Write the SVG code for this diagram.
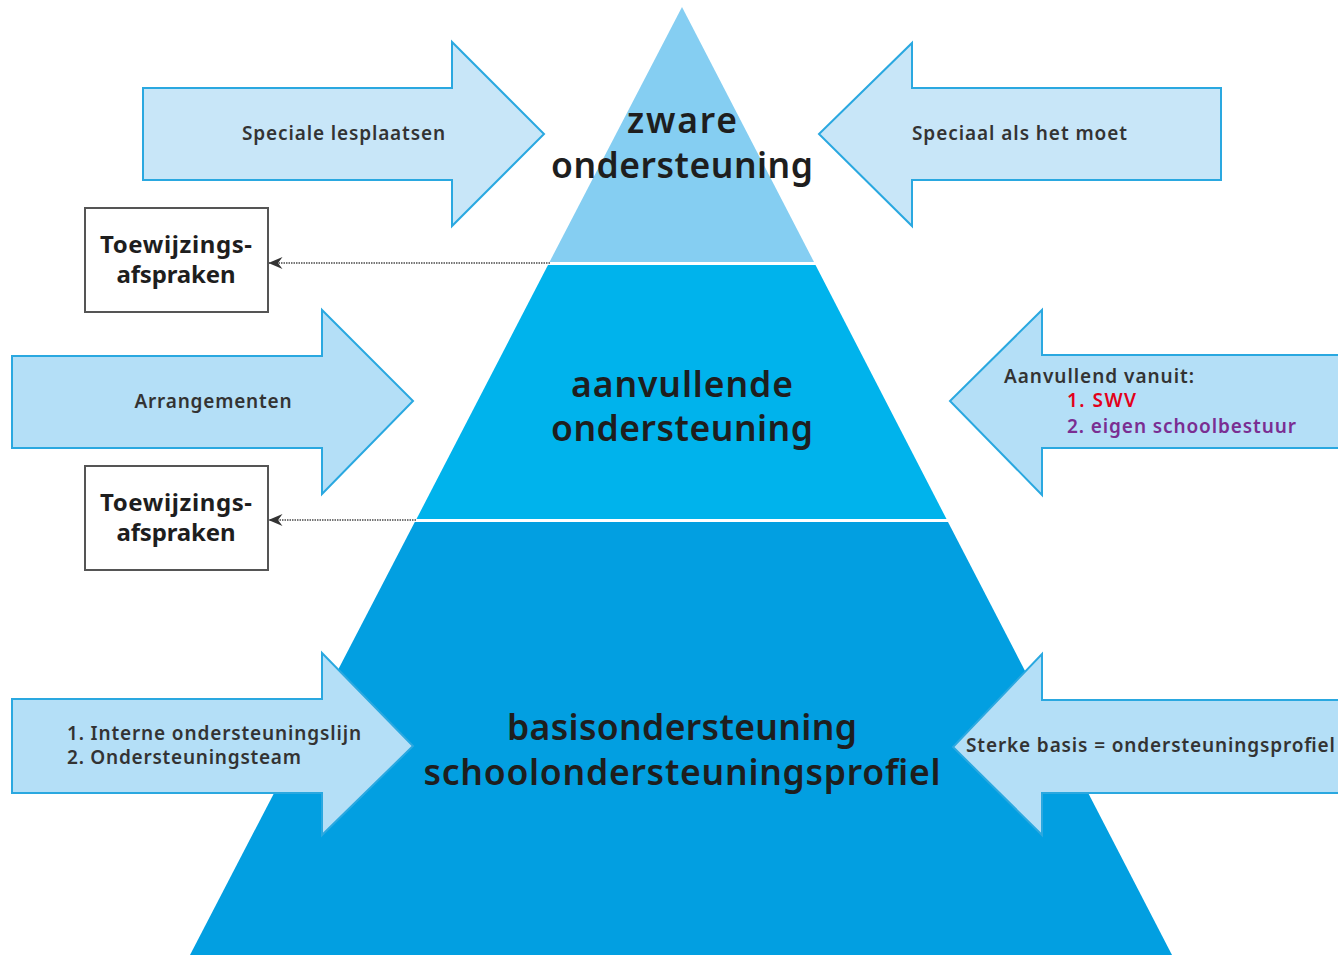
<svg xmlns="http://www.w3.org/2000/svg" width="1338" height="955" viewBox="0 0 1338 955">
<style>
.bg{fill:#ffffff}
.arrA{fill:#c8e6f8;stroke:#2aa8e0;stroke-width:2}
.arrB{fill:#b4dff7;stroke:#2aa8e0;stroke-width:2}
.box{fill:#ffffff;stroke:#555555;stroke-width:2}
.lbl{font-family:"Noto Sans","DejaVu Sans",sans-serif;font-weight:600;font-size:19px;fill:#333333}
.boxt{font-family:"Noto Sans","DejaVu Sans",sans-serif;font-weight:bold;font-size:24px;fill:#1e1e1e;text-anchor:middle}
.ttl{font-family:"Noto Sans","DejaVu Sans",sans-serif;font-weight:600;font-size:35.5px;fill:#1e1e1e;text-anchor:middle}
.conn{fill:none;stroke:#4a4a4a;stroke-width:1.6;stroke-dasharray:1.5 1}
</style>
<defs>
<marker id="ah" viewBox="0 0 14 12" refX="13.5" refY="6" markerWidth="14" markerHeight="12" markerUnits="userSpaceOnUse" orient="auto">
<path d="M0,0 L14,6 L0,12 L4.5,6 Z" fill="#333333"/>
</marker>
</defs>
<rect class="bg" x="0" y="0" width="1338" height="955"/>
<g id="pyramid">
<polygon id="tier-top" points="682,7 549.5,262 814,262" fill="#85cef2"/>
<polygon id="tier-mid" points="548,265 815.5,265 946.5,519 416.5,519" fill="#00b3ec"/>
<polygon id="tier-bot" points="414.8,522 948,522 1172,955 190,955" fill="#029fe1"/>
</g>
<g id="tier-labels">
<text class="ttl" x="682" y="133" textLength="110">zware</text>
<text class="ttl" x="682" y="178" textLength="262">ondersteuning</text>
<text class="ttl" x="682" y="397" textLength="222">aanvullende</text>
<text class="ttl" x="682" y="441" textLength="262">ondersteuning</text>
<text class="ttl" x="682" y="740" textLength="350">basisondersteuning</text>
<text class="ttl" x="682" y="785" textLength="517">schoolondersteuningsprofiel</text>
</g>
<g id="arrow-speciale-lesplaatsen">
<polygon class="arrA" points="143,88 452,88 452,42 544,134 452,226 452,180 143,180"/>
<text class="lbl" x="242" y="140" textLength="203">Speciale lesplaatsen</text>
</g>
<g id="arrow-speciaal-als-het-moet">
<polygon class="arrA" points="1221,88 912,88 912,43 819,134 912,226 912,180 1221,180"/>
<text class="lbl" x="912" y="140" textLength="215">Speciaal als het moet</text>
</g>
<g id="arrow-arrangementen">
<polygon class="arrB" points="12,356 322,356 322,310 413,401 322,494 322,448 12,448"/>
<text class="lbl" x="213" y="408" text-anchor="middle" textLength="157">Arrangementen</text>
</g>
<g id="arrow-aanvullend-vanuit">
<polygon class="arrB" points="1340,355 1042,355 1042,310 950,401 1042,495 1042,448 1340,448"/>
<text class="lbl" x="1004" y="383" textLength="190">Aanvullend vanuit:</text>
<text class="lbl" x="1067" y="407" style="fill:#e2001a" textLength="69">1. SWV</text>
<text class="lbl" x="1067" y="433" style="fill:#7a2e92" textLength="229">2. eigen schoolbestuur</text>
</g>
<g id="arrow-interne-ondersteuning">
<polygon class="arrB" points="12,699 322,699 322,653 413,746 322,835 322,793 12,793"/>
<text class="lbl" x="67" y="740" textLength="294">1. Interne ondersteuningslijn</text>
<text class="lbl" x="67" y="764" textLength="234">2. Ondersteuningsteam</text>
</g>
<g id="arrow-sterke-basis">
<polygon class="arrB" points="1340,700 1042,700 1042,654 953,747 1042,835 1042,793 1340,793"/>
<text class="lbl" x="966" y="752" textLength="369">Sterke basis = ondersteuningsprofiel</text>
</g>
<g id="box-toewijzing-1">
<rect class="box" x="85" y="208" width="183" height="104"/>
<text class="boxt" x="176" y="253" textLength="152">Toewijzings-</text>
<text class="boxt" x="176" y="283" textLength="119">afspraken</text>
</g>
<g id="box-toewijzing-2">
<rect class="box" x="85" y="466" width="183" height="104"/>
<text class="boxt" x="176" y="511" textLength="152">Toewijzings-</text>
<text class="boxt" x="176" y="541" textLength="119">afspraken</text>
</g>
<g id="connectors">
<line class="conn" x1="550" y1="263" x2="269" y2="263" marker-end="url(#ah)"/>
<line class="conn" x1="416" y1="520" x2="269" y2="520" marker-end="url(#ah)"/>
</g>
</svg>
